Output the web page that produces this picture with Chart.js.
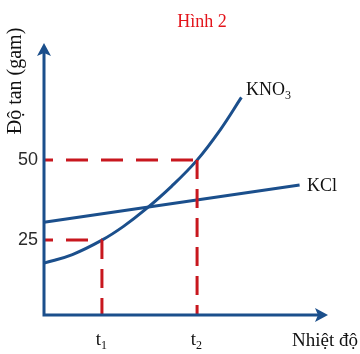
<!DOCTYPE html>
<html>
<head>
<meta charset="utf-8">
<script src="https://cdn.jsdelivr.net/npm/chart.js@4/dist/chart.umd.min.js"></script>
<style>
  html, body { margin: 0; padding: 0; background: #fff; }
  #wrap { width: 360px; height: 354px; }
</style>
</head>
<body>
<div id="wrap"><canvas id="chart" width="360" height="354"></canvas></div>
<script>
// Dữ liệu đồ thị độ tan
const kno3Temp = [0, 10, 20.4, 28, 35.6, 45, 53.9, 62, 69.5];
const kno3Sol = [17.8, 20.5, 25, 29.3, 34.5, 41.9, 50, 59.4, 69.6];
const kclTemp = [0, 90];
const kclSol = [30.6, 42.2];

// Các mốc t1, t2 và độ tan tương ứng
const markTemps = [20.4, 53.9];
const markSols = [25, 50];
const markTempLabels = ['1', '2'];      // chỉ số dưới của "t"
const markSolLabels = ['25', '50'];

const xMin = 0, xMax = 100;
const yMin = 1.6, yMax = 86.6;

const BLUE = '#1b4f8c';
const RED = '#c8171e';
const SERIF = '"Liberation Serif", "DejaVu Serif", serif';
const SANS = '"Liberation Sans", Arial, sans-serif';

function toPoints(xs, ys) {
    return xs.map((x, i) => ({ x: x, y: ys[i] }));
}

// Đường gióng nét đứt
const guideSets = [];
markTemps.forEach((t, i) => {
    guideSets.push({
        data: [{ x: xMin, y: markSols[i] }, { x: t, y: markSols[i] }],
        borderColor: RED, borderWidth: 3, borderDash: [22, 13], borderDashOffset: 13,
        pointRadius: 0, showLine: true, clip: false
    });
    guideSets.push({
        data: [{ x: t, y: markSols[i] }, { x: t, y: yMin }],
        borderColor: RED, borderWidth: 3, borderDash: [19, 10],
        pointRadius: 0, showLine: true, clip: false
    });
});

// Trục, mũi tên và chữ
const decorPlugin = {
    id: 'decor',
    afterDatasetsDraw(chart) {
        const ctx = chart.ctx;
        const a = chart.chartArea;
        const xs = chart.scales.x, ys = chart.scales.y;
        const ox = a.left, oy = a.bottom;

        ctx.save();
        ctx.strokeStyle = BLUE;
        ctx.fillStyle = BLUE;
        ctx.lineWidth = 3;
        ctx.lineCap = 'butt';
        ctx.beginPath();
        ctx.moveTo(ox, a.top + 8);
        ctx.lineTo(ox, oy);
        ctx.lineTo(a.right - 8, oy);
        ctx.stroke();

        // mũi tên trục tung
        ctx.beginPath();
        ctx.moveTo(ox, a.top);
        ctx.lineTo(ox - 7, a.top + 13);
        ctx.lineTo(ox, a.top + 10);
        ctx.lineTo(ox + 7, a.top + 13);
        ctx.closePath();
        ctx.fill();

        // mũi tên trục hoành
        ctx.beginPath();
        ctx.moveTo(a.right, oy);
        ctx.lineTo(a.right - 13, oy - 7);
        ctx.lineTo(a.right - 10, oy);
        ctx.lineTo(a.right - 13, oy + 7);
        ctx.closePath();
        ctx.fill();

        // nhãn độ tan
        ctx.fillStyle = '#2b2b2b';
        ctx.font = '18px ' + SANS;
        ctx.textAlign = 'right';
        ctx.textBaseline = 'middle';
        markSols.forEach((s, i) => {
            ctx.fillText(markSolLabels[i], 38, ys.getPixelForValue(s));
        });

        // nhãn t1, t2
        ctx.fillStyle = '#111';
        ctx.textBaseline = 'alphabetic';
        markTemps.forEach((t, i) => {
            const px = xs.getPixelForValue(t);
            ctx.font = '19px ' + SERIF;
            ctx.textAlign = 'right';
            ctx.fillText('t', px - 1, 345);
            ctx.font = '12px ' + SERIF;
            ctx.textAlign = 'left';
            ctx.fillText(markTempLabels[i], px - 1, 349);
        });

        // tiêu đề
        ctx.fillStyle = '#e3141b';
        ctx.font = '18px ' + SERIF;
        ctx.textAlign = 'center';
        ctx.fillText('Hình 2', 202, 27);

        // tên các đường
        ctx.fillStyle = '#111';
        ctx.textAlign = 'left';
        ctx.font = '18px ' + SERIF;
        ctx.fillText('KNO', 246, 95);
        const w = ctx.measureText('KNO').width;
        ctx.font = '12px ' + SERIF;
        ctx.fillText('3', 246 + w, 99);
        ctx.font = '18px ' + SERIF;
        ctx.fillText('KCl', 307, 191);

        // tên trục
        ctx.font = '19px ' + SERIF;
        ctx.fillText('Nhiệt độ', 292, 346);

        ctx.translate(21, 81);
        ctx.rotate(-Math.PI / 2);
        ctx.font = '20px ' + SERIF;
        ctx.textAlign = 'center';
        ctx.fillText('Độ tan (gam)', 0, 0);
        ctx.restore();
    }
};

new Chart(document.getElementById('chart'), {
    type: 'scatter',
    data: {
        datasets: guideSets.concat([
            {
                label: 'KNO3',
                data: toPoints(kno3Temp, kno3Sol),
                borderColor: BLUE, borderWidth: 3,
                pointRadius: 0, showLine: true,
                tension: 0.4, clip: false
            },
            {
                label: 'KCl',
                data: toPoints(kclTemp, kclSol),
                borderColor: BLUE, borderWidth: 3,
                pointRadius: 0, showLine: true, clip: false
            }
        ])
    },
    plugins: [decorPlugin],
    options: {
        responsive: false,
        animation: false,
        layout: { padding: { left: 44, right: 32, top: 43, bottom: 39 } },
        plugins: { legend: { display: false }, tooltip: { enabled: false } },
        scales: {
            x: { type: 'linear', min: xMin, max: xMax, display: false },
            y: { type: 'linear', min: yMin, max: yMax, display: false }
        }
    }
});
</script>
</body>
</html>
